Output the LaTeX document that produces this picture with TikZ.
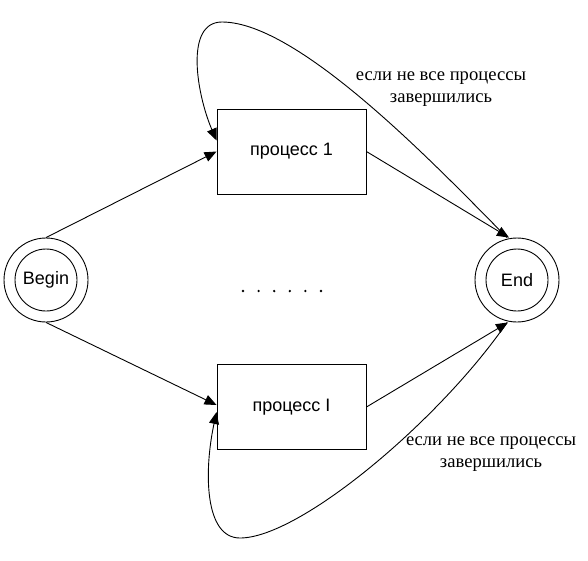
\documentclass[tikz,border=0pt]{standalone}
\usepackage{fontspec}
\setmainfont{Liberation Serif}
\setsansfont{Liberation Sans}
\usetikzlibrary{arrows.meta}

\begin{document}
\begin{tikzpicture}[
    x=1pt, y=-1pt, line width=0.9pt,
    state/.style={circle, draw, minimum size=84pt, inner sep=0pt,
        font=\sffamily\fontsize{18}{21}\selectfont,
        path picture={\draw (path picture bounding box.center) circle (31pt);}},
    procbox/.style={rectangle, draw, minimum width=149pt, minimum height=85pt,
        font=\sffamily\fontsize{18}{21}\selectfont},
    note/.style={align=center, font=\fontsize{18.6}{21.5}\selectfont},
    arr/.style={-{Triangle[length=12pt,width=10pt]}}
]
    \useasboundingbox (0,0) rectangle (588,560);

    \node[state] (begin) at (46,280) {Begin};
    \node[state] (end) at (517,280) {End};
    \node[procbox] (proc1) at (291.5,151.5) {процесс 1};
    \node[procbox] (procI) at (291.5,407) {процесс I};

    % dots between the two processes
    \foreach \i in {0,...,5}
        \fill ({243+15.6*\i},291) circle (1.3pt);

    \node[note] (note1) at (441,89) {если не все процессы\\завершились};
    \node[note] (note2) at (491,454) {если не все процессы\\завершились};

    \draw[arr] (begin.north) -- (proc1.west);
    \draw[arr] (begin.south) -- ([yshift=2pt]procI.west);
    \draw[arr] (proc1.east) -- ([xshift=-8pt]end.north);
    \draw[arr] (procI.east) -- ([xshift=-9pt]end.south);

    % loops back to the processes
    \draw[arr] ([xshift=-10pt]end.north) .. controls (440,170) and (300,22) .. (222,22)
        .. controls (184,22) and (197,95) .. ([yshift=11pt]proc1.west);
    \draw[arr] ([xshift=-10pt]end.south) .. controls (440,420) and (300,538) .. (240,538)
        .. controls (204,538) and (204,470) .. ([yshift=-5pt]procI.west);
\end{tikzpicture}
\end{document}
